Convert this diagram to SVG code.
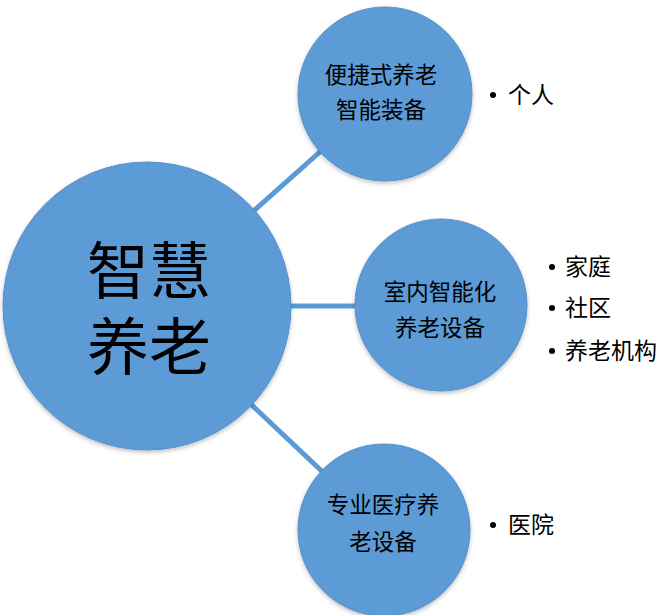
<svg xmlns="http://www.w3.org/2000/svg" width="668" height="615" viewBox="0 0 668 615">
<defs>
<filter id="sh" x="-10%" y="-10%" width="120%" height="125%">
<feDropShadow dx="0" dy="2" stdDeviation="2" flood-color="#000" flood-opacity="0.25"/>
</filter>
</defs>
<style>
.node{fill:#5B9BD5;stroke:#5590C8;stroke-width:1;filter:url(#sh)}
.conn{stroke:#5B9BD5;stroke-width:5;fill:none}
.t{font-family:"Liberation Sans","Noto Sans CJK SC",sans-serif;fill:#000;text-anchor:middle}
.s{font-size:22.5px}
.big{font-size:62px}
.lbl{font-family:"Liberation Sans","Noto Sans CJK SC",sans-serif;fill:#000;font-size:23px}
</style>
<rect width="668" height="615" fill="#fff"/>
<g id="connectors">
<line class="conn" x1="147" y1="306" x2="385" y2="94"/>
<line class="conn" x1="147" y1="306" x2="441" y2="306"/>
<line class="conn" x1="147" y1="306" x2="384" y2="530"/>
</g>
<g id="center">
<circle class="node" cx="147" cy="306" r="144"/>
<text class="t big" x="149" y="294">智慧</text>
<text class="t big" x="149" y="370">养老</text>
</g>
<g id="portable">
<circle class="node" cx="385" cy="94" r="87"/>
<text class="t s" x="381" y="83">便捷式养老</text>
<text class="t s" x="381" y="118">智能装备</text>
</g>
<g id="indoor">
<circle class="node" cx="441" cy="305" r="86"/>
<text class="t s" x="440" y="300">室内智能化</text>
<text class="t s" x="440" y="336">养老设备</text>
</g>
<g id="medical">
<circle class="node" cx="384" cy="530" r="86"/>
<text class="t s" x="383" y="513">专业医疗养</text>
<text class="t s" x="383" y="550">老设备</text>
</g>
<g id="label-personal">
<circle cx="493" cy="95" r="3" fill="#000"/>
<text class="lbl" x="508" y="103">个人</text>
</g>
<g id="label-indoor">
<circle cx="552" cy="267" r="3" fill="#000"/>
<text class="lbl" x="565" y="275">家庭</text>
<circle cx="552" cy="308" r="3" fill="#000"/>
<text class="lbl" x="565" y="316">社区</text>
<circle cx="552" cy="351" r="3" fill="#000"/>
<text class="lbl" x="565" y="359">养老机构</text>
</g>
<g id="label-medical">
<circle cx="493" cy="525" r="3" fill="#000"/>
<text class="lbl" x="508" y="533">医院</text>
</g>
</svg>
